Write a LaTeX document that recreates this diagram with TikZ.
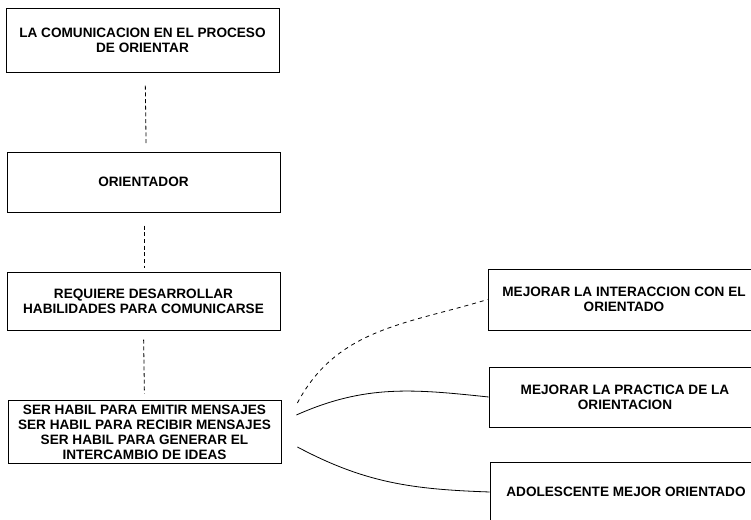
\documentclass[tikz,border=0pt]{standalone}
\usepackage{fontspec}
\setmainfont{Liberation Sans}
\usepackage{tikz}

\begin{document}
\begin{tikzpicture}[x=0.75pt, y=0.75pt,
        caja/.style={draw, line width=0.6pt, rectangle, align=center,
            font=\fontsize{10.2}{11.2}\selectfont\bfseries},
        izq/.style={caja, minimum width=273*0.75pt},
        der/.style={caja, minimum width=272*0.75pt},
        enlace/.style={line width=0.6pt, densely dashed},
        rama/.style={line width=0.6pt}]
        \useasboundingbox (0,0) rectangle (751,520);
        \clip (0,0) rectangle (751,520);

        % Left column
        \node[izq, minimum height=64*0.75pt] (com) at (142.5,480) {LA COMUNICACION EN EL PROCESO\\DE ORIENTAR};
        \node[izq, minimum height=60*0.75pt] (ori) at (143.5,338) {ORIENTADOR};
        \node[izq, minimum height=58*0.75pt] (req) at (143.5,219) {REQUIERE DESARROLLAR\\HABILIDADES PARA COMUNICARSE};
        \node[izq, minimum height=60*0.75pt] (hab) at (144.5,88) {SER HABIL PARA EMITIR MENSAJES\\SER HABIL PARA RECIBIR MENSAJES\\SER HABIL PARA GENERAR EL\\INTERCAMBIO DE IDEAS};

        % Right column
        \node[der, minimum height=61*0.75pt] (int) at (624,220.5) {MEJORAR LA INTERACCION CON EL\\ORIENTADO};
        \node[der, minimum height=60*0.75pt] (pra) at (625,123) {MEJORAR LA PRACTICA DE LA\\ORIENTACION};
        \node[der, minimum height=60*0.75pt] (ado) at (626,28) {ADOLESCENTE MEJOR ORIENTADO};

        % Vertical links
        \draw[enlace, shorten <=10pt, shorten >=5pt] ([xshift=2pt]com.south) -- ([xshift=2pt]ori.north);
        \draw[enlace, shorten <=10pt, shorten >=3pt] ([xshift=1pt]ori.south) -- ([xshift=1pt]req.north);
        \draw[enlace, shorten <=7pt, shorten >=5pt] (req.south) -- (hab.north);

        % Branches
        \draw[rama, dashed] ([shift={(16,29)}]hab.east) to[out=62, in=197] (int.west);
        \draw[rama] ([shift={(15,17)}]hab.east) to[out=24, in=174] (pra.west);
        \draw[rama] ([shift={(16,-15)}]hab.east) to[out=-28, in=178] (ado.west);
\end{tikzpicture}
\end{document}
